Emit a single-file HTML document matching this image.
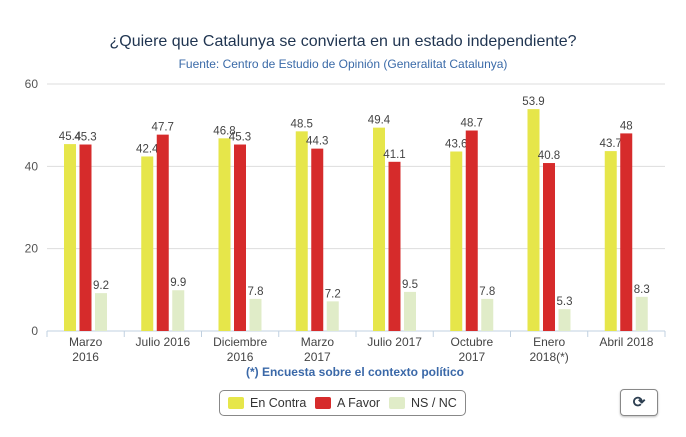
<!DOCTYPE html>
<html><head><meta charset="utf-8"><style>
body{margin:0;width:686px;height:437px;background:#fff;font-family:"Liberation Sans",sans-serif;overflow:hidden;position:relative}
.t{position:absolute;left:0;width:686px;text-align:center}
</style></head><body>
<div class="t" style="top:33px;font-size:16px;color:#1f3450">¿Quiere que Catalunya se convierta en un estado independiente?</div>
<div class="t" style="top:57px;font-size:12px;color:#3a6aa8">Fuente: Centro de Estudio de Opinión (Generalitat Catalunya)</div>
<svg id="c" width="686" height="437" style="position:absolute;left:0;top:0"></svg>
<div class="t" style="top:365px;font-size:12px;font-weight:bold;color:#3a68a8;left:12px">(*) Encuesta sobre el contexto político</div>
<div style="position:absolute;left:219px;top:390px;width:245px;height:24px;border:1px solid #888;border-radius:5px;font-size:12.5px;color:#333">
 <div style="position:absolute;left:8px;top:5px"><span style="display:inline-block;width:16px;height:12px;background:#e6e64a;border-radius:2px;vertical-align:-2px;margin-right:6px"></span>En Contra</div>
 <div style="position:absolute;left:95px;top:5px"><span style="display:inline-block;width:16px;height:12px;background:#d62b2b;border-radius:2px;vertical-align:-2px;margin-right:6px"></span>A Favor</div>
 <div style="position:absolute;left:169px;top:5px"><span style="display:inline-block;width:16px;height:12px;background:#e0ecc8;border-radius:2px;vertical-align:-2px;margin-right:6px"></span>NS / NC</div>
</div>
<div style="position:absolute;left:620px;top:389px;width:36px;height:25px;border:1px solid #888;border-radius:4px;box-shadow:0 1px 2px #bbb;text-align:center;line-height:25px;font-size:15px;font-weight:bold;color:#2c3e50">⟳</div>
<script>
const categories=[["Marzo","2016"],["Julio 2016"],["Diciembre","2016"],["Marzo","2017"],["Julio 2017"],["Octubre","2017"],["Enero","2018(*)"],["Abril 2018"]];
const enContra=[45.4,42.4,46.8,48.5,49.4,43.6,53.9,43.7];
const aFavor=[45.3,47.7,45.3,44.3,41.1,48.7,40.8,48];
const nsnc=[9.2,9.9,7.8,7.2,9.5,7.8,5.3,8.3];
const yTicks=[0,20,40,60];
const series=[[enContra,"#e6e64a","en-contra"],[aFavor,"#d62b2b","a-favor"],[nsnc,"#e0ecc8","ns-nc"]];
const svg=document.getElementById('c'),NS="http://www.w3.org/2000/svg";
const x0=47,x1=665,y0=331,y60=84,cw=(x1-x0)/categories.length;
const Y=v=>y0-(v/60)*(y0-y60);
function el(t,a,txt){const e=document.createElementNS(NS,t);for(const k in a)e.setAttribute(k,a[k]);if(txt!=null)e.textContent=txt;svg.appendChild(e);return e;}
yTicks.forEach(v=>{
 const g=el('line',{x1:x0,x2:x1,y1:Y(v),y2:Y(v),stroke:v?'#ddd':'#c0d0e0','stroke-width':1});
 
 
 const t=el('text',{x:38,y:Y(v)+4,'text-anchor':'end','font-size':12,fill:'#555','font-family':'Liberation Sans'},v);
 
 
});
categories.forEach((c,i)=>{
 const tk=el('line',{x1:x0+i*cw,x2:x0+i*cw,y1:y0,y2:y0+6,stroke:'#c0d0e0'});
 
 
 c.forEach((l,j)=>{const t=el('text',{x:x0+(i+0.5)*cw,y:y0+15+j*15,'text-anchor':'middle','font-size':12,fill:'#444','font-family':'Liberation Sans'},l);
 
 });
 series.forEach((s,k)=>{
  const v=s[0][i],bx=x0+i*cw+17+k*15.5;
  const r=el('rect',{x:bx,y:Y(v),width:12,height:y0-Y(v),fill:s[1]});
  
  
  const t=el('text',{x:bx+6,y:Y(v)-4,'text-anchor':'middle','font-size':11.5,fill:'#444','font-family':'Liberation Sans'},v);
  
  
 });
});
const tk=el('line',{x1:x1,x2:x1,y1:y0,y2:y0+6,stroke:'#c0d0e0'});


</script>
</body></html>
